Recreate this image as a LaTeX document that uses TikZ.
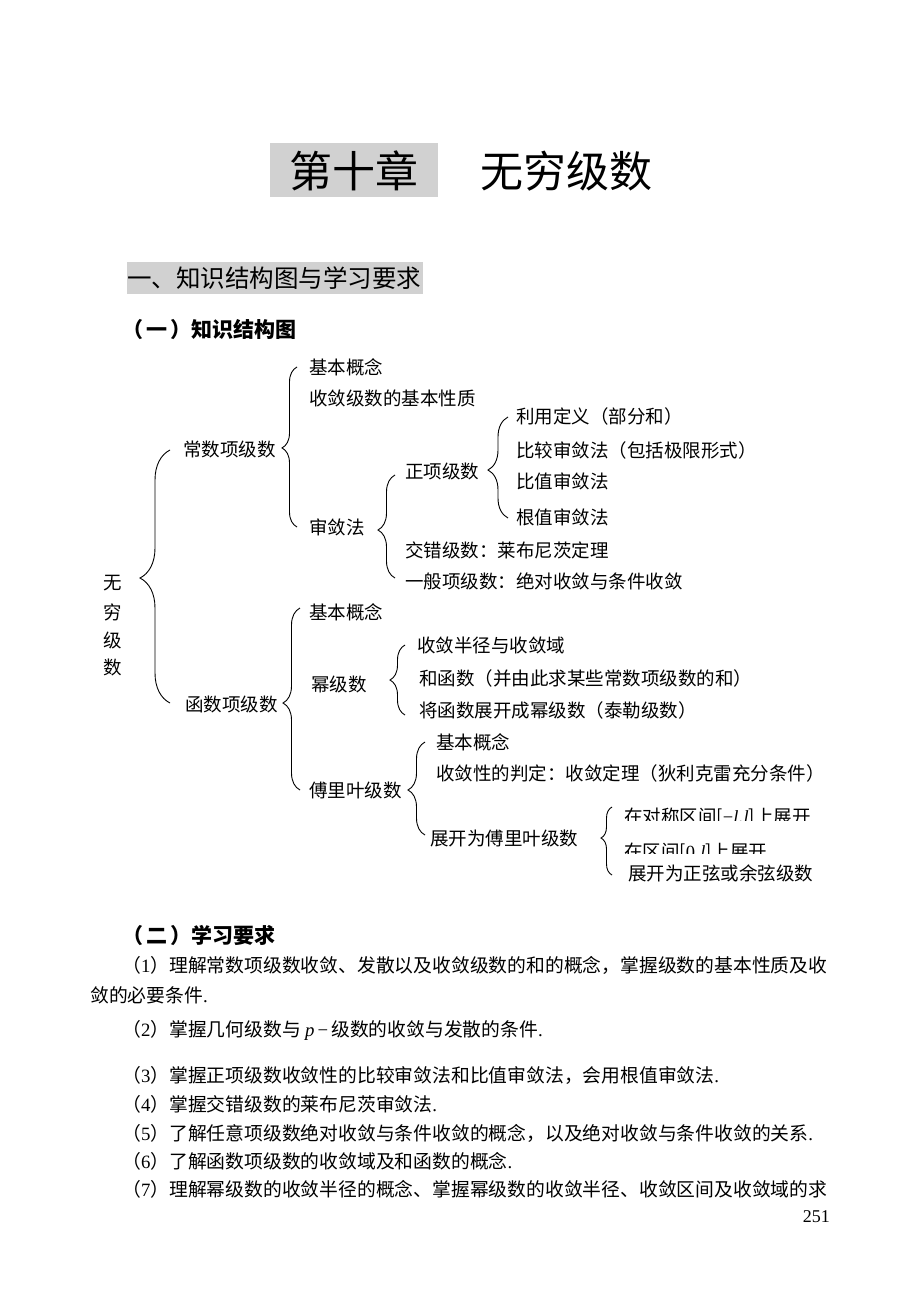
\documentclass[tikz,border=0pt]{standalone}
\usepackage{fontspec}
\setmainfont{Noto Sans CJK SC}
\newfontfamily\tms{Liberation Serif}
\usetikzlibrary{decorations.pathreplacing}
\tikzset{
  lbl/.style={anchor=west, inner sep=0pt, font=\fontsize{18.5}{20}\selectfont},
  para/.style={anchor=west, inner sep=0pt, font=\fontsize{18.8}{20}\selectfont},
  hdr/.style={anchor=west, inner sep=0pt, font=\fontsize{21}{24}\selectfont\bfseries},
  brc/.style n args={2}{draw=black, line width=0.9pt, decorate, decoration={brace, amplitude=#1, aspect=#2}},
  shade/.style={fill=black!18, draw=none}
}
\begin{document}
\begin{tikzpicture}[x=1pt, y=-1pt]
\useasboundingbox[fill=white] (0,0) rectangle (920,1300);

% title
\fill[shade] (270,143) rectangle (438,197);
\node[inner sep=0pt, font=\fontsize{43}{46}\selectfont] (t1) at (354,171) {第十章};
\node[inner sep=0pt, font=\fontsize{43}{46}\selectfont] (t2) at (566,171) {无穷级数};

% section heading
\fill[shade] (127,262) rectangle (423,294);
\node[anchor=west, inner sep=0pt, font=\fontsize{24.5}{26}\selectfont] (sec) at (127,278) {一、知识结构图与学习要求};
\node[hdr] (h1) at (122,330) {（\kern3pt 一\kern3pt）知识结构图};

% root vertical text
\node[inner sep=0pt, font=\fontsize{18.5}{20}\selectfont] (r1) at (113,583) {无};
\node[inner sep=0pt, font=\fontsize{18.5}{20}\selectfont] (r2) at (113,612) {穷};
\node[inner sep=0pt, font=\fontsize{18.5}{20}\selectfont] (r3) at (113,640) {级};
\node[inner sep=0pt, font=\fontsize{18.5}{20}\selectfont] (r4) at (113,667) {数};

% level 1
\node[lbl] (cs) at (183,449) {常数项级数};
\node[lbl] (hs) at (185,704) {函数项级数};

% constant series
\node[lbl] (c1) at (309,367) {基本概念};
\node[lbl] (c2) at (309,398) {收敛级数的基本性质};
\node[lbl] (c3) at (309,527) {审敛法};
\node[lbl] (p0) at (405,471) {正项级数};
\node[lbl] (p1) at (516,416) {利用定义（部分和）};
\node[lbl] (p2) at (516,450) {比较审敛法（包括极限形式）};
\node[lbl] (p3) at (516,481) {比值审敛法};
\node[lbl] (p4) at (516,517) {根值审敛法};
\node[lbl] (a1) at (405,550) {交错级数：莱布尼茨定理};
\node[lbl] (a2) at (405,581) {一般项级数：绝对收敛与条件收敛};

% function series
\node[lbl] (f1) at (309,612) {基本概念};
\node[lbl] (f2) at (311,684) {幂级数};
\node[lbl] (f3) at (309,790) {傅里叶级数};
\node[lbl] (m1) at (417,645) {收敛半径与收敛域};
\node[lbl] (m2) at (419,678) {和函数（并由此求某些常数项级数的和）};
\node[lbl] (m3) at (419,710) {将函数展开成幂级数（泰勒级数）};
\node[lbl] (q1) at (436,742) {基本概念};
\node[lbl] (q2) at (436,773) {收敛性的判定：收敛定理（狄利克雷充分条件）};
\node[lbl] (q3) at (430,838) {展开为傅里叶级数};
\begin{scope}
  \clip (615,800) rectangle (900,820);
  \node[lbl] (e1) at (624,817) {在对称区间[{\tms −\itshape l},{\tms\itshape l}]上展开};
\end{scope}
\begin{scope}
  \clip (615,835) rectangle (900,853);
  \node[lbl] (e2) at (624,852) {在区间[{\tms 0},{\tms\itshape l}]上展开};
\end{scope}
\node[lbl] (e3) at (628,873) {展开为正弦或余弦级数};

% braces (drawn bottom to top so the tip points left)
\coordinate (b1t) at (170,450); \coordinate (b1b) at (170,703);
\coordinate (b2t) at (297,367); \coordinate (b2b) at (297,527);
\coordinate (b3t) at (395,475); \coordinate (b3b) at (395,578);
\coordinate (b4t) at (508,417); \coordinate (b4b) at (508,518);
\coordinate (b5t) at (300,608); \coordinate (b5b) at (300,790);
\coordinate (b6t) at (405,645); \coordinate (b6b) at (405,715);
\coordinate (b7t) at (425,742); \coordinate (b7b) at (425,835);
\coordinate (b8t) at (612,807); \coordinate (b8b) at (612,875);
\draw[brc={30}{0.494}] (b1b) -- (b1t);
\draw[brc={15}{0.494}] (b2b) -- (b2t);
\draw[brc={17}{0.466}] (b3b) -- (b3t);
\draw[brc={20}{0.475}] (b4b) -- (b4t);
\draw[brc={17}{0.478}] (b5b) -- (b5t);
\draw[brc={15}{0.5}] (b6b) -- (b6t);
\draw[brc={17}{0.484}] (b7b) -- (b7t);
\draw[brc={11}{0.544}] (b8b) -- (b8t);

% learning requirements
\node[hdr] (h2) at (122,935) {（\kern3pt 二\kern3pt）学习要求};
\node[para] (l1) at (122,965) {（{\tms 1}）理解常数项级数收敛、发散以及收敛级数的和的概念，掌握级数的基本性质及收};
\node[para] (l1b) at (90,995) {敛的必要条件{\tms .}};
\node[para] (l2) at (122,1030) {（{\tms 2}）掌握几何级数与 {\tms\itshape p}\,{\tms −}\,级数的收敛与发散的条件{\tms .}};
\node[para] (l3) at (122,1075) {（{\tms 3}）掌握正项级数收敛性的比较审敛法和比值审敛法，会用根值审敛法{\tms .}};
\node[para] (l4) at (122,1104) {（{\tms 4}）掌握交错级数的莱布尼茨审敛法{\tms .}};
\node[para] (l5) at (122,1133) {（{\tms 5}）了解任意项级数绝对收敛与条件收敛的概念，以及绝对收敛与条件收敛的关系{\tms .}};
\node[para] (l6) at (122,1161) {（{\tms 6}）了解函数项级数的收敛域及和函数的概念{\tms .}};
\node[para] (l7) at (122,1189) {（{\tms 7}）理解幂级数的收敛半径的概念、掌握幂级数的收敛半径、收敛区间及收敛域的求};
\node[anchor=east, inner sep=0pt, font=\tms\fontsize{18}{20}\selectfont] (pg) at (830,1217) {251};
\end{tikzpicture}
\end{document}
